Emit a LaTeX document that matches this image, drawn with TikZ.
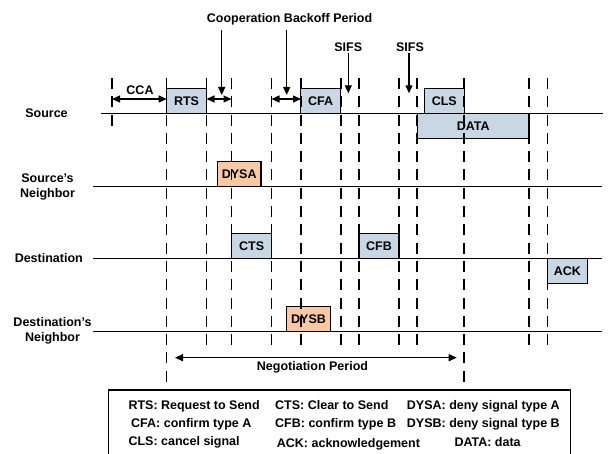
\documentclass[tikz,border=0pt]{standalone}
\usepackage{fontspec}
\setmainfont{Liberation Sans}
\usetikzlibrary{arrows.meta}
\definecolor{boxblue}{HTML}{C9D6E4}
\definecolor{boxorange}{HTML}{FAC9A1}
\begin{document}
\begin{tikzpicture}[x=1pt,y=-1pt,
  every node/.style={font=\bfseries\fontsize{12.5}{15}\selectfont, inner sep=0pt},
  tline/.style={line width=1.3pt},
  vdash/.style={line width=1.2pt, dash pattern=on 11pt off 7.3pt},
  bluebox/.style={draw, line width=1.2pt, fill=boxblue, minimum width=40pt, minimum height=25pt},
  orangebox/.style={draw, line width=1.2pt, fill=boxorange, minimum width=43.5pt, minimum height=25pt},
  downarr/.style={line width=1.2pt, -{Triangle[length=8pt,width=7pt]}},
  twoarr/.style={line width=1.2pt, {Triangle[length=8pt,width=7pt]}-{Triangle[length=8pt,width=7pt]}},
  rowlabel/.style={align=center},
  legend/.style={anchor=base west},
]
\useasboundingbox (0,0) rectangle (608,454);

% row labels
\node (lsrc) at (46.5,113.5) {Source};
\node[rowlabel] (lsn) at (47.5,186.5) {Source’s\\Neighbor};
\node (ldst) at (48.8,258.3) {Destination};
\node[rowlabel] (ldn) at (52.5,331) {Destination’s\\Neighbor};

% time lines
\coordinate (s0) at (101,113.3); \coordinate (s1) at (603,113.3);
\coordinate (n0) at (93,186.7);  \coordinate (n1) at (602,186.7);
\coordinate (d0) at (93,258.3);  \coordinate (d1) at (602,258.3);
\coordinate (m0) at (93,331.7);  \coordinate (m1) at (602,331.7);
\draw[tline] (s0) -- (s1);
\draw[tline] (n0) -- (n1);
\draw[tline] (d0) -- (d1);
\draw[tline] (m0) -- (m1);

% frames
\node[bluebox] (rts) at (186.5,100.8) {RTS};
\node[bluebox] (cfa) at (320.7,100.8) {CFA};
\node[bluebox] (cls) at (444.3,100.8) {CLS};
\node[bluebox, minimum width=111.7pt] (data) at (473.2,125.8) {DATA};
\node[orangebox] (dysa) at (239.2,174.2) {DYSA};
\node[bluebox] (cts) at (251.7,245.8) {CTS};
\node[bluebox] (cfb) at (379,245.8) {CFB};
\node[bluebox] (ack) at (567.3,270.8) {ACK};
\node[orangebox] (dysb) at (308.5,319.2) {DYSB};

% dashed time markers
\draw[vdash] (112,78) -- (112,127);
\foreach \xx in {206.5,231.5,271.5,301,341,359,399,417,529,547.5}
  \draw[vdash] (\xx,78) -- (\xx,348);
\foreach \xx in {166.7,464}
  \draw[vdash] (\xx,78) -- (\xx,384);

% CCA
\coordinate (cca0) at (112,99); \coordinate (cca1) at (166.7,99);
\draw[twoarr] (cca0) -- (cca1);
\node[anchor=base] (ccal) at (140,94.5) {CCA};

% cooperation backoff
\coordinate (cb0) at (206.5,99); \coordinate (cb1) at (231.5,99);
\coordinate (cb2) at (271.5,99); \coordinate (cb3) at (301,99);
\draw[twoarr] (cb0) -- (cb1);
\draw[twoarr] (cb2) -- (cb3);
\node[anchor=base west] (cbp) at (206.7,22.3) {Cooperation Backoff Period};
\coordinate (cba) at (221.7,30); \coordinate (cbat) at (221.7,95);
\coordinate (cbb) at (286.7,30); \coordinate (cbbt) at (286.7,95);
\draw[downarr] (cba) -- (cbat);
\draw[downarr] (cbb) -- (cbbt);

% SIFS
\node[anchor=base] (sifs1) at (348.3,51.6) {SIFS};
\node[anchor=base] (sifs2) at (410,51.6) {SIFS};
\coordinate (sa) at (348.3,53); \coordinate (sat) at (348.3,93.3);
\coordinate (sb) at (409,53); \coordinate (sbt) at (409,93.3);
\draw[downarr] (sa) -- (sat);
\draw[downarr] (sb) -- (sbt);

% negotiation period
\coordinate (ng0) at (175,357.7); \coordinate (ng1) at (456.7,357.7);
\draw[twoarr] (ng0) -- (ng1);
\node[anchor=base] (ngl) at (312.5,370.7) {Negotiation Period};

% legend
\draw[line width=1.2pt] (108.3,460) -- (108.3,390) -- (570.7,390) -- (570.7,460);
\node[legend] (l1) at (128.3,409.3) {RTS: Request to Send};
\node[legend] (l2) at (275,409.3) {CTS: Clear to Send};
\node[legend] (l3) at (406.7,409.3) {DYSA: deny signal type A};
\node[legend] (l4) at (131,427.7) {CFA: confirm type A};
\node[legend] (l5) at (275,427.7) {CFB: confirm type B};
\node[legend] (l6) at (406.7,427.7) {DYSB: deny signal type B};
\node[legend] (l7) at (128.3,445.2) {CLS: cancel signal};
\node[legend] (l8) at (276.7,447) {ACK: acknowledgement};
\node[legend] (l9) at (454.3,446.5) {DATA: data};
\end{tikzpicture}
\end{document}
